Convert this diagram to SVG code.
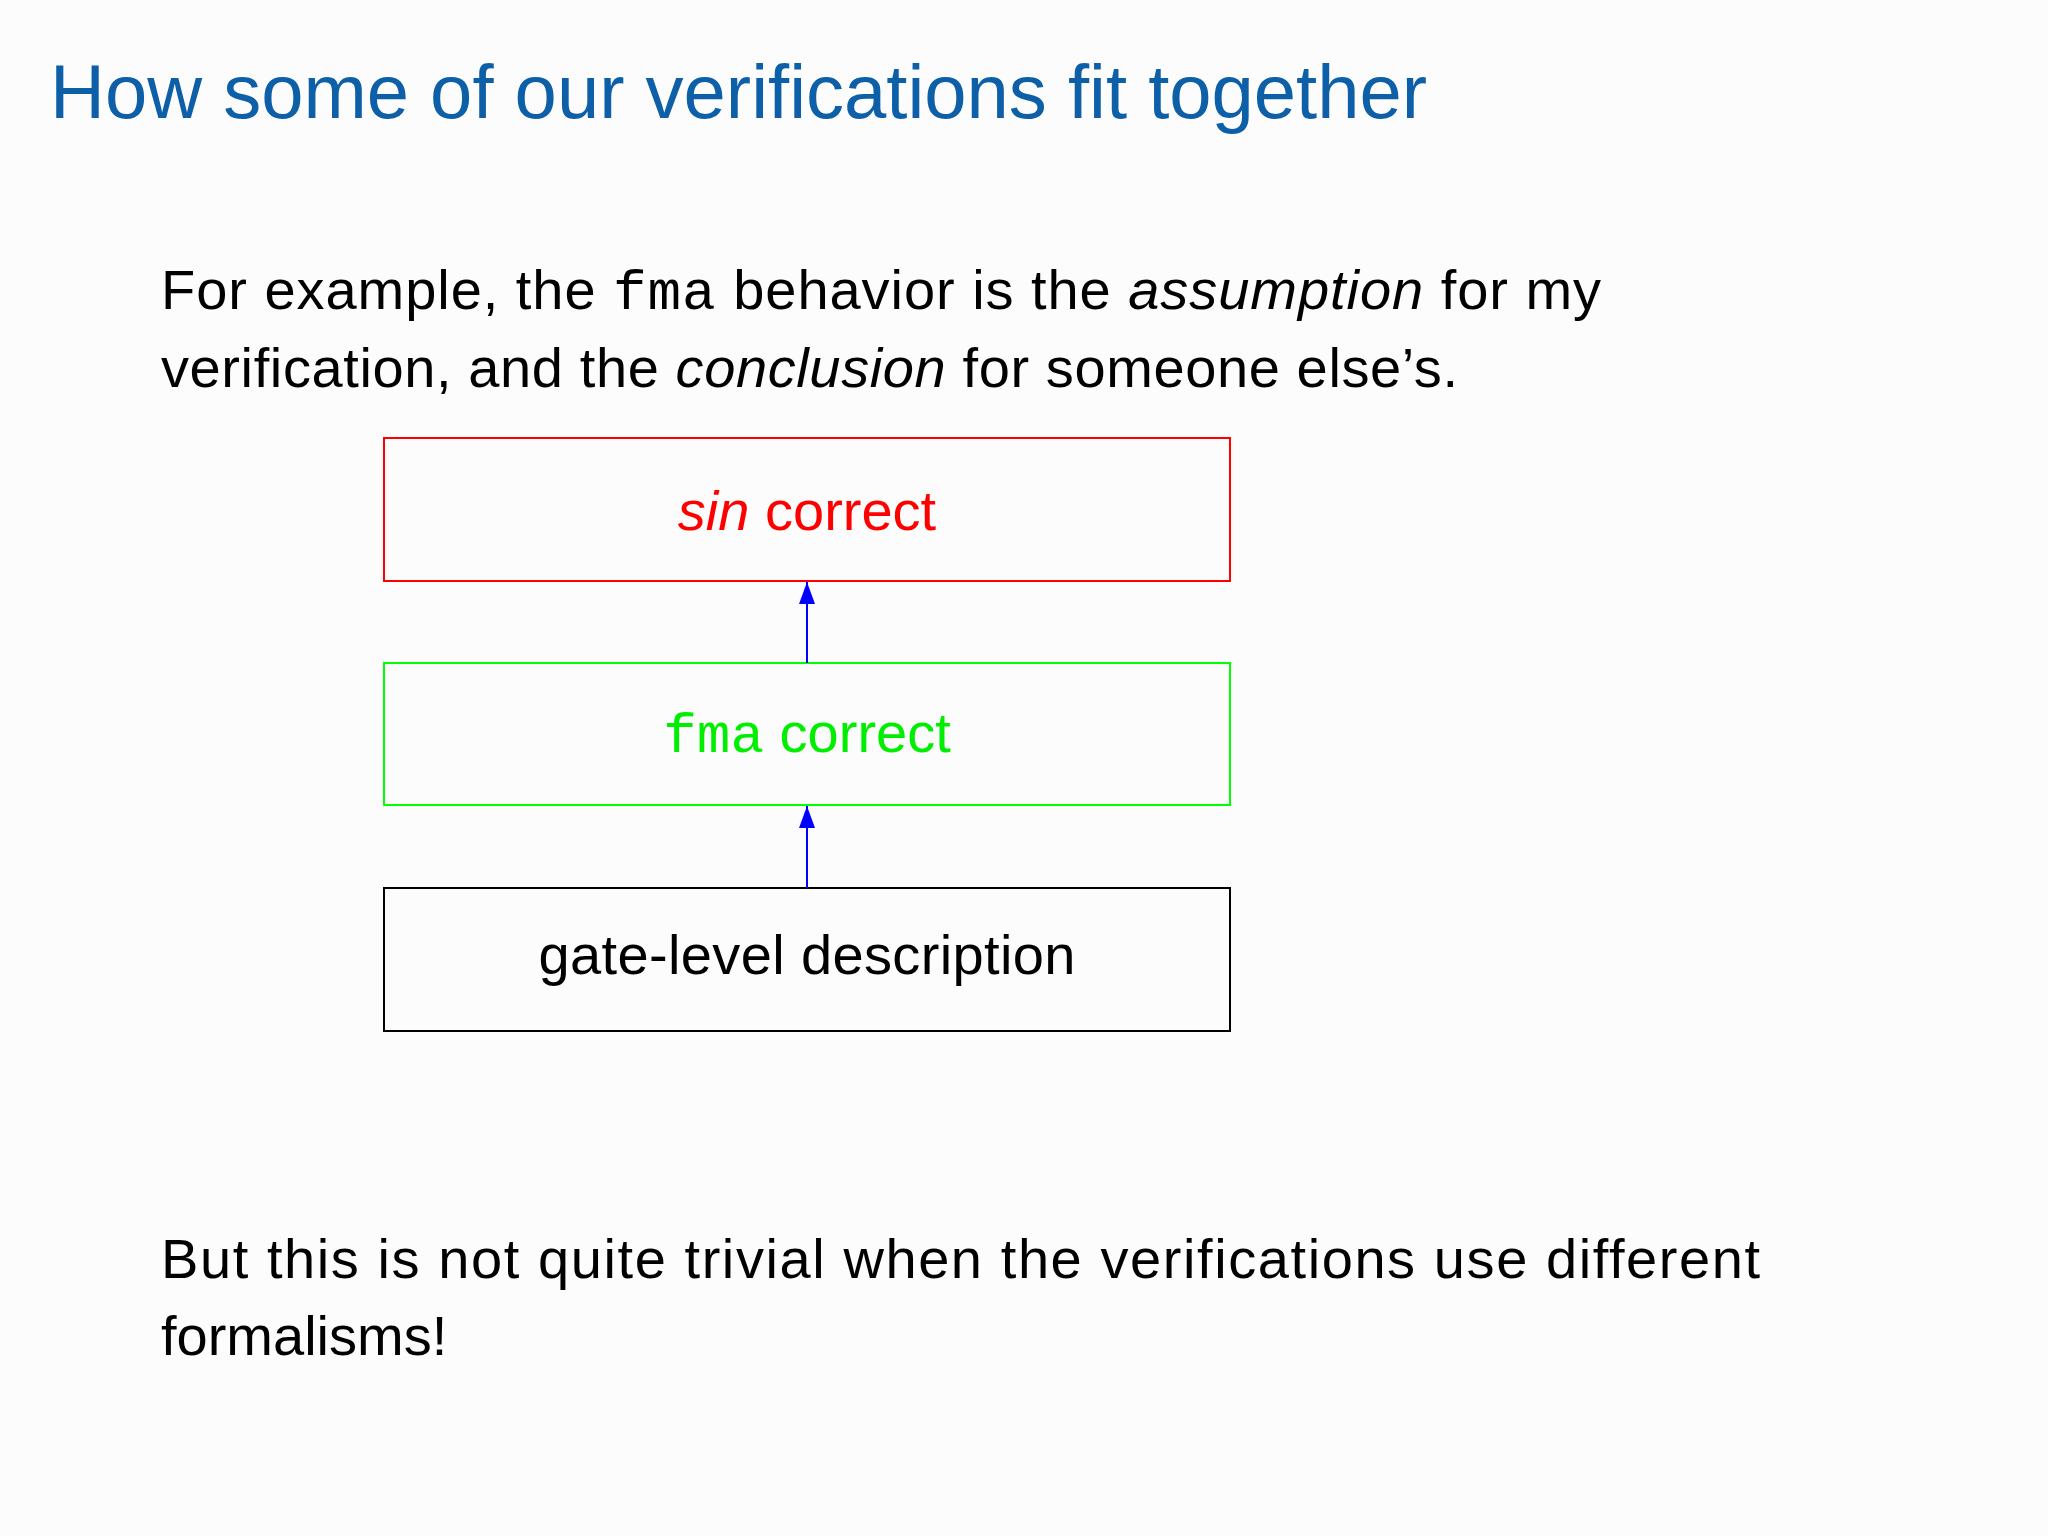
<svg xmlns="http://www.w3.org/2000/svg" width="2048" height="1536" viewBox="0 0 2048 1536">
<defs>
<style>
.t{font-family:"Liberation Sans",Arial,sans-serif}
.m{font-family:"Liberation Mono","Courier New",monospace}
.i{font-style:italic}
.box{fill:none;stroke-width:2}
.lbl{font-family:"Liberation Sans",Arial,sans-serif;font-size:56px;text-anchor:middle}
.conn{stroke:#0000ff;stroke-width:2;fill:none}
</style>
<marker id="ah" viewBox="0 0 22 16" refX="22" refY="8" markerWidth="22" markerHeight="16" markerUnits="userSpaceOnUse" orient="auto">
<path d="M22,8 L0,0 L0,16 Z" fill="#0000ff"/>
</marker>
</defs>
<rect width="2048" height="1536" fill="#fcfcfc"/>
<text class="t" x="50" y="118" font-size="76" fill="#0d5fa8">How some of our verifications fit together</text>
<text class="t" x="161" y="309" font-size="56" fill="#000" textLength="1440" lengthAdjust="spacing">For example, the <tspan class="m">fma</tspan> behavior is the <tspan class="i">assumption</tspan> for my</text>
<text class="t" x="161" y="387" font-size="56" fill="#000" textLength="1297" lengthAdjust="spacing">verification, and the <tspan class="i">conclusion</tspan> for someone else’s.</text>
<g id="node-sin">
<rect class="box" x="384" y="438" width="846" height="143" stroke="#ff0000"/>
<text class="lbl" x="807" y="530" fill="#ff0000"><tspan class="i">sin</tspan> correct</text>
</g>
<g id="node-fma">
<rect class="box" x="384" y="663" width="846" height="142" stroke="#00ff00"/>
<text class="lbl" x="807" y="752" fill="#00ee00"><tspan class="m">fma</tspan> correct</text>
</g>
<g id="node-gate">
<rect class="box" x="384" y="888" width="846" height="143" stroke="#000"/>
<text class="lbl" x="807" y="974" fill="#000" textLength="537" lengthAdjust="spacing">gate-level description</text>
</g>
<g id="connectors">
<line class="conn" x1="807" y1="663" x2="807" y2="582" marker-end="url(#ah)"/>
<line class="conn" x1="807" y1="888" x2="807" y2="806" marker-end="url(#ah)"/>
</g>
<text class="t" x="161" y="1278" font-size="56" fill="#000" textLength="1599" lengthAdjust="spacing">But this is not quite trivial when the verifications use different</text>
<text class="t" x="161" y="1355" font-size="56" fill="#000">formalisms!</text>
</svg>
